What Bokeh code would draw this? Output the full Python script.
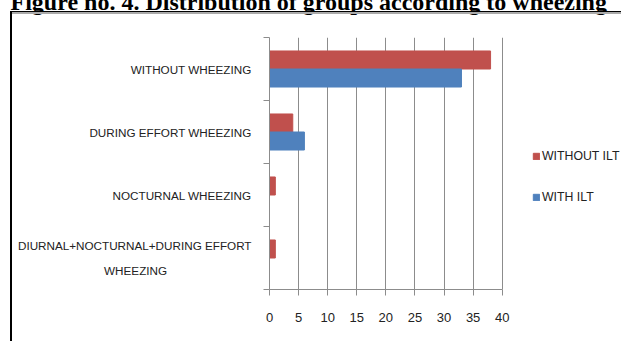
from bokeh.plotting import figure
from bokeh.models import (Range1d, FixedTicker, Legend, LegendItem,
                          ColumnDataSource, InlineStyleSheet)
from bokeh.embed import file_html
from bokeh.resources import INLINE

# ---- data ----
categories = ["WITHOUT WHEEZING", "DURING EFFORT WHEEZING",
              "NOCTURNAL WHEEZING", "DIURNAL+NOCTURNAL+DURING EFFORT\nWHEEZING"]
without_ilt = [38, 4, 1, 1]
with_ilt = [33, 6, 0, 0]
series_names = ["WITHOUT ILT", "WITH ILT"]
x_ticks = [0, 5, 10, 15, 20, 25, 30, 35, 40]
title_text = "Figure no. 4. Distribution of groups according to wheezing"

RED = "#C0504D"
BLUE = "#4F81BD"
GRID = "#8C8C8C"
TXT = "#222222"
FONT = "Liberation Sans"
NBSP = "\u00a0"

SHIFT = 34                      # canvas pixels hidden above the page top
n = len(categories)
centers = [n - 0.5 - i for i in range(n)]
boundaries = list(range(n + 1))
bar_h = 0.286
x_axis_max = x_ticks[-1]
x_view_max = x_axis_max * (621 - 269) / (501.7 - 269)   # frame runs on under the legend


def centred_lines(label, pad=26):
    # a two-line category name is centred line by line, as in the reference
    lines = label.split("\n")
    if len(lines) == 1:
        return label
    return lines[0] + "\n" + lines[1] + NBSP * pad


p = figure(width=621, height=341 + SHIFT, output_backend="svg", toolbar_location=None,
           x_range=Range1d(0, x_view_max), y_range=Range1d(0, n),
           min_border_left=269, min_border_right=0,
           min_border_top=37 + SHIFT, min_border_bottom=52,
           margin=(-SHIFT, 0, 0, 0))
p.outline_line_color = None
p.background_fill_color = "white"
p.border_fill_color = "white"

# title (its top falls outside the page, as in the reference)
p.title.text = title_text
p.title.text_font = "Liberation Serif"
p.title.text_font_style = "bold"
p.title.text_font_size = "24px"
p.title.text_color = "black"
p.title.align = "left"
p.title.vertical_align = "top"
p.title.offset = -259
p.title.standoff = 42

src_r = ColumnDataSource(dict(y=[c + bar_h / 2 for c in centers], right=without_ilt))
src_b = ColumnDataSource(dict(y=[c - bar_h / 2 for c in centers], right=with_ilt))
r_red = p.hbar(y="y", right="right", left=0, height=bar_h, source=src_r,
               fill_color=RED, line_color=RED)
r_blue = p.hbar(y="y", right="right", left=0, height=bar_h, source=src_b,
                fill_color=BLUE, line_color=BLUE)

# x axis
p.xaxis.ticker = FixedTicker(ticks=x_ticks)
p.xaxis.bounds = (0, x_axis_max)
p.xaxis.axis_line_color = GRID
p.xaxis.major_tick_line_color = GRID
p.xaxis.major_tick_out = 6
p.xaxis.major_tick_in = 0
p.xaxis.minor_tick_line_color = None
p.xaxis.major_label_standoff = 17
p.xaxis.major_label_text_font = FONT
p.xaxis.major_label_text_font_size = "13px"
p.xaxis.major_label_text_color = TXT

# y axis: category names at band centres, tick marks at band boundaries
p.yaxis.ticker = FixedTicker(ticks=centers, minor_ticks=boundaries)
p.yaxis.major_label_overrides = {c: centred_lines(name) for c, name in zip(centers, categories)}
p.yaxis.axis_line_color = GRID
p.yaxis.major_tick_line_color = None
p.yaxis.major_tick_out = 0
p.yaxis.major_tick_in = 0
p.yaxis.minor_tick_line_color = GRID
p.yaxis.minor_tick_out = 6
p.yaxis.minor_tick_in = 0
p.yaxis.major_label_standoff = 12
p.yaxis.major_label_text_font = FONT
p.yaxis.major_label_text_font_size = "11.7px"
p.yaxis.major_label_text_color = TXT
p.yaxis.major_label_text_line_height = 1.95

p.xgrid.ticker = FixedTicker(ticks=x_ticks)
p.xgrid.grid_line_color = GRID
p.ygrid.grid_line_color = None

# legend
legend = Legend(items=[LegendItem(label=series_names[0], renderers=[r_red]),
                       LegendItem(label=series_names[1], renderers=[r_blue])],
                location=(263, 82), glyph_width=8, glyph_height=8, label_height=20,
                label_standoff=2, spacing=21, padding=0, margin=0,
                border_line_alpha=0, background_fill_alpha=0,
                label_text_font=FONT, label_text_font_size="12.3px",
                label_text_color=TXT)
p.add_layout(legend)

# the box drawn round the chart in the reference
p.stylesheets = [InlineStyleSheet(css=f"""
:host {{ position: relative; }}
:host::after {{ content: ""; position: absolute; left: 10px; top: {11 + SHIFT}px;
  right: -4px; bottom: -4px; border-left: 2px solid #000; border-top: 1px solid #000;
  box-shadow: inset 0 2px 0 #aaaaaa; pointer-events: none; }}
""")]

open("out.html", "w").write(file_html(p, INLINE))
